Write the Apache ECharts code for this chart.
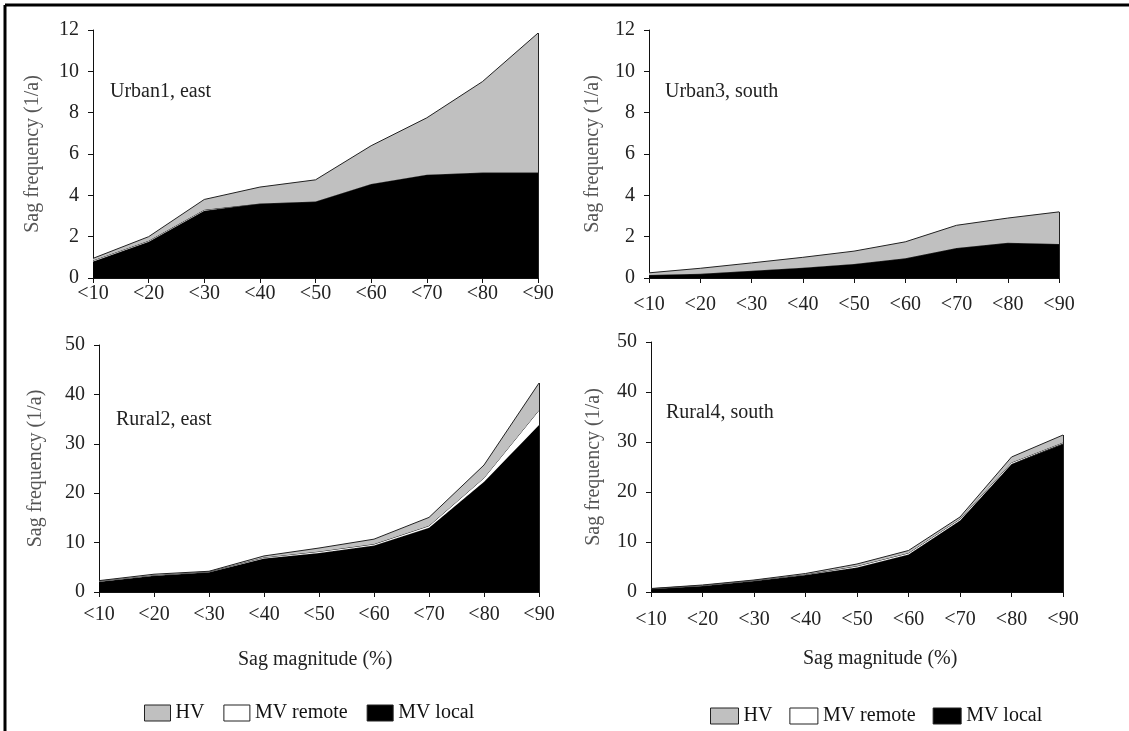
<!DOCTYPE html>
<html>
<head>
<meta charset="utf-8">
<style>
  html, body { margin: 0; padding: 0; background: #fff; }
  #chart { width: 1129px; height: 731px; }
</style>
<script src="https://cdn.jsdelivr.net/npm/echarts@6/dist/echarts.min.js"></script>
</head>
<body>
<div id="chart"></div>
<script>
// Sag magnitude classes (x axis)
const categories = ['<10', '<20', '<30', '<40', '<50', '<60', '<70', '<80', '<90'];

// Sag frequency per year, split by origin
const urban1Local  = [0.8, 1.75, 3.25, 3.6, 3.7, 4.55, 5.0, 5.1, 5.1];
const urban1Remote = [0.05, 0.05, 0.05, 0, 0, 0, 0, 0, 0];
const urban1HV     = [0.1, 0.2, 0.5, 0.8, 1.05, 1.85, 2.75, 4.4, 6.75];

const urban3Local  = [0.15, 0.2, 0.35, 0.5, 0.68, 0.95, 1.45, 1.7, 1.65];
const urban3Remote = [0, 0, 0, 0, 0, 0, 0, 0, 0];
const urban3HV     = [0.1, 0.27, 0.38, 0.5, 0.62, 0.8, 1.1, 1.2, 1.55];

const rural2Local  = [2.1, 3.3, 4.0, 6.8, 7.9, 9.4, 13.0, 22.3, 33.8];
const rural2Remote = [0.1, 0.1, 0.1, 0.2, 0.3, 0.3, 0.4, 0.8, 3.0];
const rural2HV     = [0.1, 0.2, 0.1, 0.3, 0.7, 1.0, 1.7, 2.6, 5.5];

const rural4Local  = [0.6, 1.2, 2.2, 3.4, 4.9, 7.5, 14.3, 25.6, 29.6];
const rural4Remote = [0.05, 0.1, 0.1, 0.1, 0.3, 0.3, 0.3, 0.3, 0.3];
const rural4HV     = [0.05, 0.1, 0.1, 0.2, 0.4, 0.5, 0.4, 1.1, 1.5];

// Panel labels and y-axis tick settings
const panelNames = ['Urban1, east', 'Urban3, south', 'Rural2, east', 'Rural4, south'];
const urbanYMax = 12, urbanYStep = 2;
const ruralYMax = 50, ruralYStep = 10;

const FONT = 'Liberation Serif';
const COLORS = { 'HV': '#c0c0c0', 'MV remote': '#ffffff', 'MV local': '#000000' };

const panels = [
  { local: urban1Local, remote: urban1Remote, hv: urban1HV, max: urbanYMax, step: urbanYStep,
    grid: { left: 93, top: 30, width: 445, height: 248 }, xMargin: 6, yNameGap: 50, label: [110, 82] },
  { local: urban3Local, remote: urban3Remote, hv: urban3HV, max: urbanYMax, step: urbanYStep,
    grid: { left: 649, top: 30, width: 410, height: 248 }, xMargin: 17, yNameGap: 46, label: [665, 82] },
  { local: rural2Local, remote: rural2Remote, hv: rural2HV, max: ruralYMax, step: ruralYStep,
    grid: { left: 99, top: 345, width: 440, height: 247 }, xMargin: 13, yNameGap: 53, label: [116, 410] },
  { local: rural4Local, remote: rural4Remote, hv: rural4HV, max: ruralYMax, step: ruralYStep,
    grid: { left: 651, top: 342, width: 412, height: 250 }, xMargin: 18, yNameGap: 47, label: [666, 403] }
];

const grids = [], xAxes = [], yAxes = [], series = [], titles = [];

panels.forEach((p, i) => {
  grids.push(p.grid);
  xAxes.push({
    type: 'category', gridIndex: i, data: categories, boundaryGap: false,
    axisLine: { lineStyle: { color: '#111', width: 1 } },
    axisTick: { show: true, length: 5, inside: false, alignWithLabel: true, lineStyle: { color: '#111' } },
    axisLabel: { color: '#222', fontFamily: FONT, fontSize: 20, margin: p.xMargin, interval: 0 },
    splitLine: { show: false }
  });
  yAxes.push({
    type: 'value', gridIndex: i, min: 0, max: p.max, interval: p.step,
    name: 'Sag frequency (1/a)', nameLocation: 'middle', nameGap: p.yNameGap,
    nameTextStyle: { color: '#555', fontFamily: FONT, fontSize: 20 },
    axisLine: { show: true, lineStyle: { color: '#111', width: 1 } },
    axisTick: { show: true, length: 5, lineStyle: { color: '#111' } },
    axisLabel: { color: '#222', fontFamily: FONT, fontSize: 20, margin: 14 },
    splitLine: { show: false }
  });
  titles.push({
    text: panelNames[i], left: p.label[0], top: p.label[1], padding: 0,
    textStyle: { color: '#222', fontFamily: FONT, fontSize: 20, fontWeight: 'normal' }
  });

  const layers = [['MV local', p.local], ['MV remote', p.remote], ['HV', p.hv]];
  const lastIdx = categories.length - 1;
  const total = p.local[lastIdx] + p.remote[lastIdx] + p.hv[lastIdx];
  layers.forEach(([name, values], k) => {
    const s = {
      name, type: 'line', stack: 'panel' + i, xAxisIndex: i, yAxisIndex: i,
      data: values, symbol: 'none', silent: true, z: 2 + k,
      itemStyle: { color: COLORS[name] },
      lineStyle: { color: '#222', width: 1 },
      areaStyle: { color: COLORS[name], opacity: 1 }
    };
    if (name === 'HV') {
      // closing edge of the stacked area at the last class
      s.markLine = {
        silent: true, symbol: 'none', label: { show: false },
        lineStyle: { color: '#222', width: 1, type: 'solid' },
        data: [[{ coord: [categories[lastIdx], 0] }, { coord: [categories[lastIdx], total] }]]
      };
    }
    series.push(s);
  });
});

const legendBase = {
  data: ['HV', 'MV remote', 'MV local'],
  icon: 'rect', itemHeight: 16, orient: 'horizontal',
  selectedMode: false,
  itemStyle: { borderColor: '#222', borderWidth: 1 },
  textStyle: { color: '#111', fontFamily: FONT, fontSize: 20 }
};

const option = {
  animation: false,
  backgroundColor: '#fff',
  title: titles,
  grid: grids,
  xAxis: xAxes,
  yAxis: yAxes,
  series: series,
  legend: [
    Object.assign({}, legendBase, { left: 139, top: 698, itemWidth: 26, itemGap: 19 }),
    Object.assign({}, legendBase, { left: 705, top: 701, itemWidth: 28, itemGap: 17 })
  ],
  graphic: [
    { type: 'text', left: 238, top: 650, style: { text: 'Sag magnitude (%)', fill: '#222', font: '20px "Liberation Serif"' } },
    { type: 'text', left: 803, top: 649, style: { text: 'Sag magnitude (%)', fill: '#222', font: '20px "Liberation Serif"' } },
    { type: 'line', shape: { x1: 5, y1: 5, x2: 1129, y2: 5 }, style: { stroke: '#000', lineWidth: 3 } },
    { type: 'line', shape: { x1: 5, y1: 5, x2: 5, y2: 731 }, style: { stroke: '#000', lineWidth: 3 } }
  ]
};

const chart = echarts.init(document.getElementById('chart'), null, { renderer: 'canvas' });
chart.setOption(option);
</script>
</body>
</html>
